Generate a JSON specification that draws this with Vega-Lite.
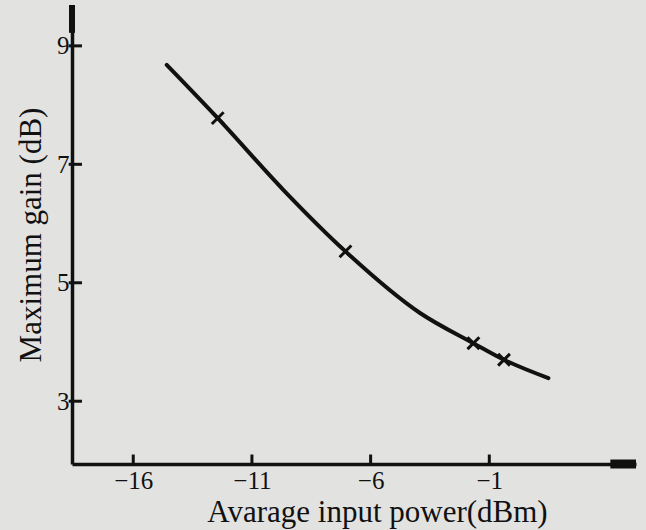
{
  "$schema": "https://vega.github.io/schema/vega-lite/v6.json",
  "width": 564,
  "height": 459,
  "autosize": {"type": "none"},
  "padding": {"left": 72, "top": 5, "right": 10, "bottom": 66},
  "background": "#e2e2e0",
  "config": {
    "view": {"stroke": null},
    "axis": {
      "grid": false,
      "ticks": false,
      "domainColor": "#111111",
      "domainWidth": 3.5,
      "labelFont": "Liberation Serif",
      "labelFontSize": 25,
      "labelColor": "#111111",
      "titleFont": "Liberation Serif",
      "titleFontSize": 31,
      "titleFontWeight": "normal",
      "titleColor": "#111111"
    }
  },
  "datasets": {
    "curve": [
      {"power": -14.59, "gain": 8.68, "measured": false},
      {"power": -12.44, "gain": 7.78, "measured": true},
      {"power": -9.68, "gain": 6.57, "measured": false},
      {"power": -7.06, "gain": 5.53, "measured": true},
      {"power": -3.92, "gain": 4.49, "measured": false},
      {"power": -1.67, "gain": 3.98, "measured": true},
      {"power": -0.38, "gain": 3.7, "measured": true},
      {"power": 1.49, "gain": 3.39, "measured": false}
    ],
    "xticks": [{"power": -16}, {"power": -11}, {"power": -6}, {"power": -1}],
    "yticks": [{"gain": 3}, {"gain": 5}, {"gain": 7}, {"gain": 9}],
    "xarrow": [{"x": 4.1, "x2": 5.18, "y": 1.94}],
    "yarrow": [{"x": -18.58, "y": 9.22, "y2": 9.69}]
  },
  "layer": [
    {
      "data": {"name": "curve"},
      "mark": {"type": "line", "interpolate": "monotone", "color": "#111111", "strokeWidth": 4, "strokeCap": "round"},
      "encoding": {
        "x": {
          "field": "power", "type": "quantitative",
          "scale": {"domain": [-18.58, 5.18], "nice": false, "zero": false},
          "axis": {"values": [-16, -11, -6, -1], "labelPadding": 4, "title": "Avarage input power(dBm)", "titlePadding": 4, "titleX": 305}
        },
        "y": {
          "field": "gain", "type": "quantitative",
          "scale": {"domain": [1.94, 9.69], "nice": false, "zero": false},
          "axis": {"values": [3, 5, 7, 9], "format": "d", "labelPadding": 3, "title": "Maximum gain (dB)", "titlePadding": 9}
        }
      }
    },
    {
      "data": {"name": "curve"},
      "transform": [{"filter": "datum.measured"}],
      "mark": {"type": "point", "shape": "M-1,-1L1,1M-1,1L1,-1", "filled": false, "color": "#111111", "strokeWidth": 3, "size": 140, "opacity": 1},
      "encoding": {
        "x": {"field": "power", "type": "quantitative"},
        "y": {"field": "gain", "type": "quantitative"}
      }
    },
    {
      "data": {"name": "xticks"},
      "mark": {"type": "rule", "color": "#111111", "strokeWidth": 3},
      "encoding": {
        "x": {"field": "power", "type": "quantitative"},
        "y": {"datum": 1.94},
        "y2": {"datum": 2.1}
      }
    },
    {
      "data": {"name": "yticks"},
      "mark": {"type": "rule", "color": "#111111", "strokeWidth": 3},
      "encoding": {
        "y": {"field": "gain", "type": "quantitative"},
        "x": {"datum": -18.72},
        "x2": {"datum": -18.16}
      }
    },
    {
      "data": {"name": "xarrow"},
      "mark": {"type": "rule", "color": "#111111", "strokeWidth": 9, "strokeCap": "butt"},
      "encoding": {
        "x": {"field": "x", "type": "quantitative"},
        "x2": {"field": "x2"},
        "y": {"field": "y", "type": "quantitative"}
      }
    },
    {
      "data": {"name": "yarrow"},
      "mark": {"type": "rule", "color": "#111111", "strokeWidth": 6, "strokeCap": "butt"},
      "encoding": {
        "x": {"field": "x", "type": "quantitative"},
        "y": {"field": "y", "type": "quantitative"},
        "y2": {"field": "y2"}
      }
    }
  ]
}
